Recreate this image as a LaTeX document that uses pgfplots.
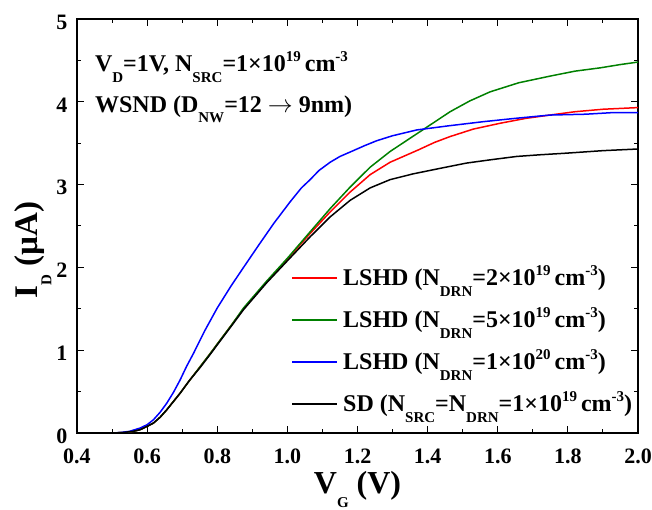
\documentclass[border=0pt]{standalone}
\usepackage{pgfplots}
\pgfplotsset{compat=1.18}
\usepackage{fontspec}
\setmainfont{Liberation Serif}
\newcommand{\sub}[1]{\raisebox{-0.42em}{\fontsize{15pt}{15pt}\selectfont #1}}
\newcommand{\sups}[1]{\raisebox{0.42em}{\fontsize{15pt}{15pt}\selectfont #1}}
\newcommand{\swatch}[1]{\textcolor{#1}{\rule[7pt]{45pt}{1.6pt}}\hspace{6pt}}
\definecolor{cgreen}{RGB}{0,128,0}
\definecolor{cred}{RGB}{255,0,0}
\definecolor{cblue}{RGB}{0,0,255}
\definecolor{cblack}{RGB}{0,0,0}
\begin{document}
\begin{tikzpicture}
\useasboundingbox (-77pt,-77pt) rectangle (575pt,433pt);
\begin{axis}[
  scale only axis,
  width=561pt, height=414pt,
  xmin=0.4, xmax=2.0, ymin=0, ymax=5,
  xtick={0.4,0.6,...,2.0},
  minor x tick num=1,
  ytick={0,1,2,3,4,5},
  minor y tick num=1,
  major tick length=7pt, minor tick length=4pt,
  axis line style={line width=1.4pt},
  every tick/.style={line width=1pt, black},
  /pgf/number format/assume math mode=true,
  xticklabel style={font=\fontsize{22pt}{22pt}\selectfont\bfseries, yshift=-12pt, /pgf/number format/.cd, fixed, fixed zerofill, precision=1},
  yticklabel style={font=\fontsize{22pt}{22pt}\selectfont\bfseries, xshift=-6pt, yshift=-3pt},
  xlabel={V\sub{G} (V)},
  ylabel={I\sub{D} (µA)},
  xlabel style={font=\fontsize{32pt}{32pt}\selectfont\bfseries, at={(axis description cs:0.5,0)}, anchor=base, yshift=-61pt},
  ylabel style={font=\fontsize{33pt}{33pt}\selectfont\bfseries, at={(axis description cs:-0.0784,0.442)}, anchor=center},
  legend cell align=left,
  legend image code/.code={},
  legend style={draw=none, fill=none, at={(axis cs:0.996,2.08)}, anchor=north west,
    font=\fontsize{24pt}{24pt}\selectfont\bfseries, row sep=5pt, column sep=0pt,
    nodes={inner sep=3pt, text height=20pt, text depth=11pt}},
]
\addplot[draw=cred, line width=1.5pt] coordinates {
(0.40,0) (0.50,0) (0.53,0.005) (0.56,0.02) (0.58,0.04) (0.60,0.08) (0.618,0.12) (0.637,0.19) (0.656,0.28) (0.675,0.38) (0.694,0.48) (0.72,0.63) (0.751,0.80) (0.78,0.96) (0.808,1.12) (0.84,1.30) (0.875,1.50) (0.94,1.82) (1.0,2.10) (1.065,2.41) (1.122,2.67) (1.179,2.91) (1.236,3.12) (1.293,3.27) (1.374,3.42) (1.42,3.51) (1.464,3.58) (1.53,3.67) (1.606,3.74) (1.68,3.80) (1.749,3.84) (1.82,3.88) (1.90,3.91) (2.0,3.93)
};
\addlegendentry{\swatch{cred}LSHD (N\sub{DRN}=2×10\sups{19}\,cm\sups{-3})}
\addplot[draw=cgreen, line width=1.5pt] coordinates {
(0.40,0) (0.50,0) (0.53,0.005) (0.56,0.02) (0.58,0.04) (0.60,0.08) (0.618,0.12) (0.637,0.19) (0.656,0.28) (0.675,0.38) (0.694,0.48) (0.72,0.63) (0.751,0.80) (0.78,0.96) (0.808,1.12) (0.84,1.30) (0.875,1.51) (0.94,1.83) (1.0,2.11) (1.065,2.43) (1.122,2.71) (1.179,2.97) (1.236,3.21) (1.293,3.40) (1.35,3.56) (1.40,3.70) (1.464,3.88) (1.52,4.01) (1.578,4.12) (1.66,4.23) (1.749,4.31) (1.82,4.37) (1.892,4.41) (1.95,4.45) (2.0,4.48)
};
\addlegendentry{\swatch{cgreen}LSHD (N\sub{DRN}=5×10\sups{19}\,cm\sups{-3})}
\addplot[draw=cblue, line width=1.5pt] coordinates {
(0.40,0) (0.50,0) (0.523,0.005) (0.55,0.02) (0.58,0.06) (0.60,0.10) (0.618,0.16) (0.637,0.25) (0.656,0.36) (0.675,0.49) (0.694,0.64) (0.712,0.80) (0.732,0.96) (0.765,1.24) (0.80,1.51) (0.84,1.78) (0.875,2.00) (0.92,2.28) (0.961,2.53) (1.0075,2.79) (1.04,2.96) (1.065,3.06) (1.09,3.17) (1.122,3.27) (1.15,3.34) (1.188,3.41) (1.22,3.47) (1.255,3.53) (1.30,3.59) (1.369,3.66) (1.46,3.71) (1.559,3.76) (1.65,3.80) (1.749,3.84) (1.85,3.85) (1.93,3.87) (2.0,3.87)
};
\addlegendentry{\swatch{cblue}LSHD (N\sub{DRN}=1×10\sups{20}\,cm\sups{-3})}
\addplot[draw=cblack, line width=1.5pt] coordinates {
(0.40,0) (0.50,0) (0.53,0.005) (0.56,0.02) (0.58,0.04) (0.60,0.08) (0.618,0.12) (0.637,0.19) (0.656,0.28) (0.675,0.38) (0.694,0.48) (0.72,0.63) (0.751,0.79) (0.78,0.95) (0.808,1.11) (0.84,1.29) (0.875,1.49) (0.94,1.81) (1.0,2.08) (1.065,2.37) (1.122,2.61) (1.179,2.81) (1.236,2.96) (1.293,3.06) (1.359,3.13) (1.44,3.20) (1.511,3.26) (1.58,3.30) (1.654,3.34) (1.72,3.36) (1.797,3.38) (1.90,3.41) (2.0,3.43)
};
\addlegendentry{\swatch{cblack}SD (N\sub{SRC}=N\sub{DRN}=1×10\sups{19}\,cm\sups{-3})}
\node[anchor=base west, font=\fontsize{24pt}{24pt}\selectfont\bfseries, inner sep=0pt] at (axis cs:0.451,4.36) {V\sub{D}=1V, N\sub{SRC}=1×10\sups{19}\,cm\sups{-3}};
\node[anchor=base west, font=\fontsize{24pt}{24pt}\selectfont\bfseries, inner sep=0pt] at (axis cs:0.451,3.87) {WSND (D\sub{NW}=12 $\rightarrow$ 9nm)};
\end{axis}
\end{tikzpicture}
\end{document}
